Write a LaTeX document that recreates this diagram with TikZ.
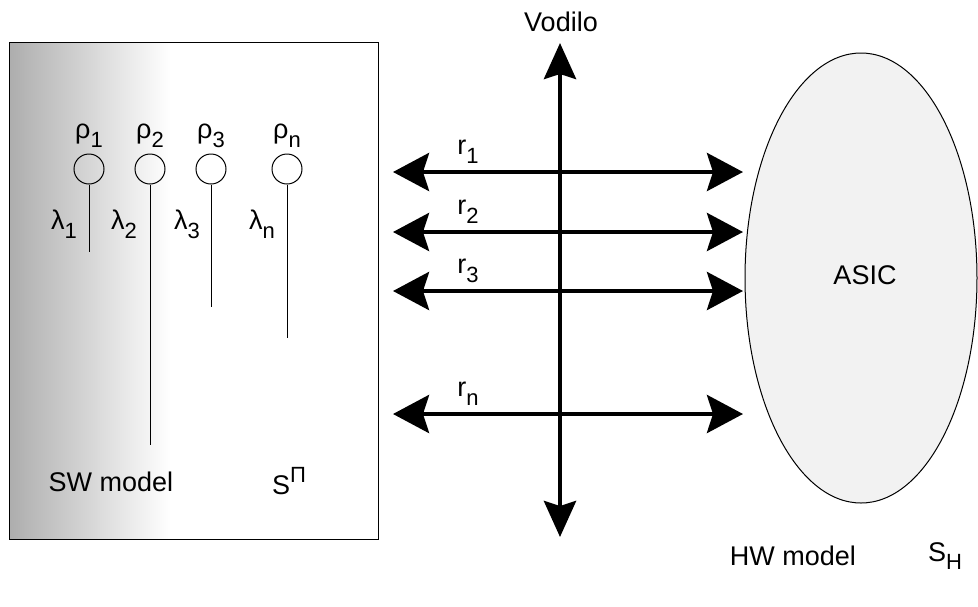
\documentclass[tikz,border=0pt]{standalone}
\usepackage{fontspec}
\setmainfont{Liberation Sans}
\usetikzlibrary{arrows.meta}
\newcommand\mysb[1]{\raisebox{-0.32em}{\fontsize{22}{24}\selectfont #1}}
\newcommand\mysp[1]{\raisebox{0.45em}{\fontsize{22}{24}\selectfont #1}}
\tikzset{
  lbl/.style={font=\fontsize{27}{30}\selectfont, inner sep=0pt},
  port/.style={circle, draw, line width=1pt, minimum size=30pt, inner sep=0pt},
  pin/.style={line width=1pt},
  bus/.style={line width=4.5pt, {Stealth[length=36pt,width=38pt,inset=6pt]}-{Stealth[length=36pt,width=38pt,inset=6pt]}},
  vbus/.style={line width=4.5pt, {Stealth[length=36pt,width=32pt,inset=5pt]}-{Stealth[length=36pt,width=32pt,inset=5pt]}},
}
\begin{document}
\begin{tikzpicture}[x=1pt,y=-1pt]
\useasboundingbox (0,0) rectangle (978,606);
% SW box
\fill[white] (9,42) rectangle (378,539);
\shade[left color=black!32, right color=white] (9,42) rectangle (170,539);
\draw[line width=1pt] (9,42) rectangle (378,539);
% ports
\node[port] (p1) at (89,169) {};
\node[port] (p2) at (150,169) {};
\node[port] (p3) at (211,169) {};
\node[port] (pn) at (287,169) {};
\coordinate (e1) at (89,252);
\coordinate (e2) at (150,445);
\coordinate (e3) at (211,307);
\coordinate (en) at (287,338);
\draw[pin] (p1.south) -- (e1);
\draw[pin] (p2.south) -- (e2);
\draw[pin] (p3.south) -- (e3);
\draw[pin] (pn.south) -- (en);
\node[lbl] (rho1) at (89,136) {ρ\mysb{1}};
\node[lbl] (rho2) at (150,136) {ρ\mysb{2}};
\node[lbl] (rho3) at (211,136) {ρ\mysb{3}};
\node[lbl] (rhon) at (287,136) {ρ\mysb{n}};
\node[lbl] (l1) at (64,224) {λ\mysb{1}};
\node[lbl] (l2) at (124,224) {λ\mysb{2}};
\node[lbl] (l3) at (187,224) {λ\mysb{3}};
\node[lbl] (ln) at (262,224) {λ\mysb{n}};
\node[lbl] (sw) at (111,482) {SW model};
\node[lbl] (spi) at (289,481) {S\mysp{Π}};
% ASIC
\filldraw[line width=1pt, fill=black!5] (861,278) ellipse [x radius=116, y radius=225];
\node[lbl] (asic) at (865,275) {ASIC};
\node[lbl] (hw) at (793,556) {HW model};
\node[lbl] (sh) at (945,556) {S\mysb{H}};
% Vodilo
\coordinate (vt) at (560,43);
\coordinate (vb) at (560,537);
\draw[vbus] (vt) -- (vb);
\node[lbl] (vod) at (561,22) {Vodilo};
% buses
\coordinate (a1) at (393,172); \coordinate (b1) at (743,172);
\coordinate (a2) at (393,232); \coordinate (b2) at (743,232);
\coordinate (a3) at (393,291); \coordinate (b3) at (743,291);
\coordinate (an) at (393,414); \coordinate (bn) at (743,414);
\draw[bus] (a1) -- (b1);
\draw[bus] (a2) -- (b2);
\draw[bus] (a3) -- (b3);
\draw[bus] (an) -- (bn);
\node[lbl] (r1) at (468,152) {r\mysb{1}};
\node[lbl] (r2) at (468,212) {r\mysb{2}};
\node[lbl] (r3) at (468,271) {r\mysb{3}};
\node[lbl] (rn) at (468,394) {r\mysb{n}};
\end{tikzpicture}
\end{document}
